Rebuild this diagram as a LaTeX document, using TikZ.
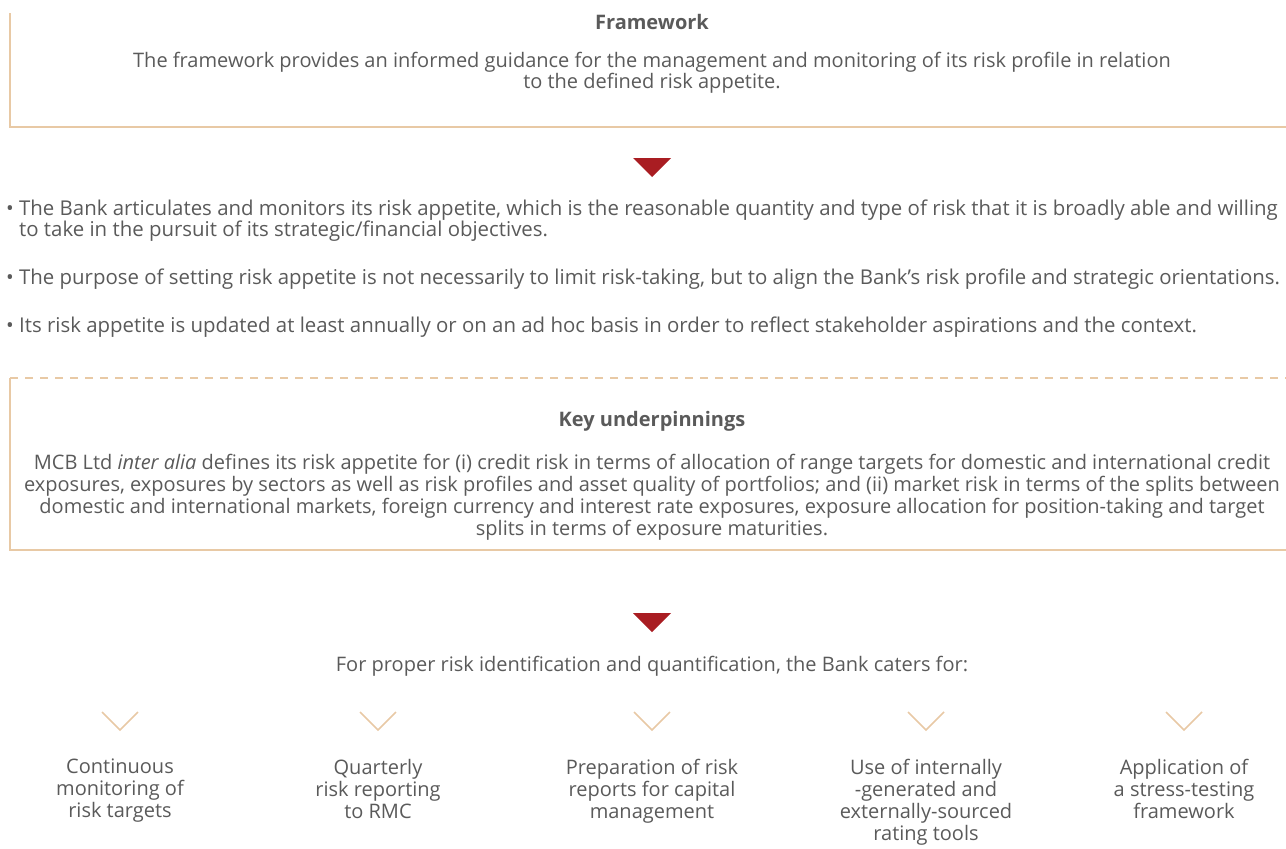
\documentclass[tikz,border=0pt]{standalone}
\usepackage{fontspec}
\setmainfont{Open Sans}
\usepackage{xcolor}
\definecolor{sand}{HTML}{E8C9A5}
\definecolor{txtgrey}{HTML}{5A5A5A}
\definecolor{mcbred}{HTML}{A91D22}
\tikzset{
  body/.style={text=txtgrey, font=\fontsize{20}{21}\selectfont, inner sep=0pt},
  head/.style={body, font=\fontsize{20}{21}\selectfont\bfseries},
  bullet/.style={body, anchor=west, align=left, font=\fontsize{20.4}{21}\selectfont},
  frame/.style={draw=sand, line width=2.2pt},
  pointer/.style={fill=mcbred},
  chevron/.style={draw=sand, line width=1.5pt}
}
\begin{document}
\begin{tikzpicture}[x=1pt,y=-1pt]
\useasboundingbox (0,0) rectangle (1286,849);
\draw[frame] (10,13) -- (10,127) -- (1286,127);
\node(fwtitle)[head] at (652,22) {Framework};
\node(fwtext)[body, align=center] at (652,73) {The framework provides an informed guidance for the management and monitoring of its risk profile in relation\\to the defined risk appetite.};
\fill[pointer] (633,158) -- (671,158) -- (652,177) -- cycle;
\node(b1)[bullet] at (6,221) {• The Bank articulates and monitors its risk appetite, which is the reasonable quantity and type of risk that it is broadly able and willing\\\hphantom{• }to take in the pursuit of its strategic/financial objectives.};
\node(b2)[bullet] at (6,279) {• The purpose of setting risk appetite is not necessarily to limit risk-taking, but to align the Bank’s risk profile and strategic orientations.};
\node(b3)[bullet] at (6,327) {• Its risk appetite is updated at least annually or on an ad hoc basis in order to reflect stakeholder aspirations and the context.};
\draw[frame, dash pattern=on 8pt off 7pt] (10,378) -- (1286,378);
\draw[frame] (10,378) -- (10,550) -- (1286,550);
\node(kutitle)[head] at (652,421) {Key underpinnings};
\node(kutext)[body, align=center, font=\fontsize{20}{22}\selectfont] at (652,497) {MCB Ltd \textit{inter alia} defines its risk appetite for (i) credit risk in terms of allocation of range targets for domestic and international credit\\exposures, exposures by sectors as well as risk profiles and asset quality of portfolios; and (ii) market risk in terms of the splits between\\domestic and international markets, foreign currency and interest rate exposures, exposure allocation for position-taking and target\\splits in terms of exposure maturities.};
\fill[pointer] (633,613) -- (671,613) -- (652,632) -- cycle;
\node(caters)[body] at (652,666) {For proper risk identification and quantification, the Bank caters for:};
\foreach \cx/\name/\lbl in {120/c1/{Continuous\\monitoring of\\risk targets},
    378/c2/{Quarterly\\risk reporting\\to RMC},
    652/c3/{Preparation of risk\\reports for capital\\management},
    926/c4/{Use of internally\\-generated and\\externally-sourced\\rating tools},
    1184/c5/{Application of\\a stress-testing\\framework}}{
  \draw[chevron] (\cx-18,712) -- (\cx,730) -- (\cx+18,712);
  \node(\name)[body, align=center, anchor=north, font=\fontsize{20}{22}\selectfont] at (\cx,759) {\lbl};
}
\end{tikzpicture}
\end{document}
